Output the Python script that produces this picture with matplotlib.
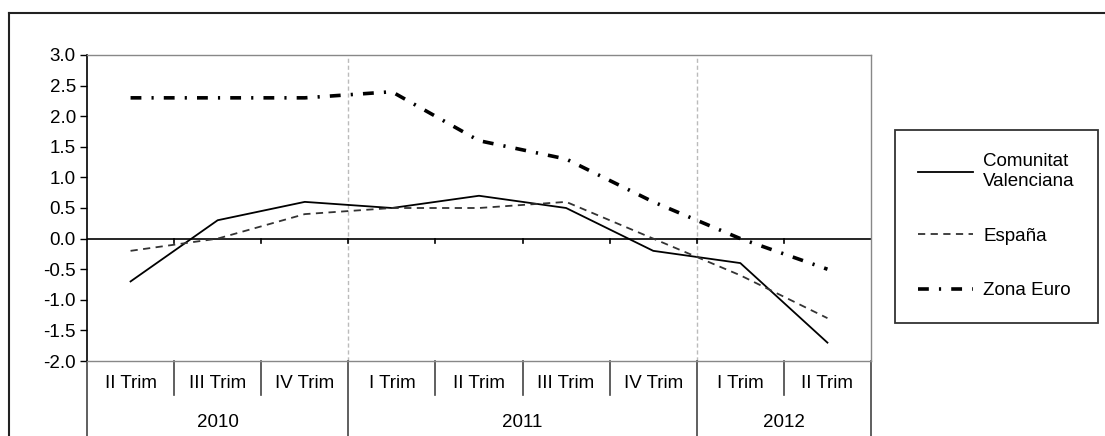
import matplotlib.pyplot as plt
from matplotlib.lines import Line2D
import matplotlib.transforms as mtransforms

plt.rcParams['font.family'] = ['Liberation Sans', 'DejaVu Sans']

trimestres = ['II Trim', 'III Trim', 'IV Trim', 'I Trim', 'II Trim', 'III Trim', 'IV Trim', 'I Trim', 'II Trim']
anios = ['2010', '2011', '2012']
trim_por_anio = [3, 4, 2]

comunitat = [-0.7, 0.3, 0.6, 0.5, 0.7, 0.5, -0.2, -0.4, -1.7]
espana = [-0.2, 0.0, 0.4, 0.5, 0.5, 0.6, 0.0, -0.6, -1.3]
zona_euro = [2.3, 2.3, 2.3, 2.4, 1.6, 1.3, 0.6, 0.0, -0.5]

fs = 13.5

fig = plt.figure(figsize=(11.05, 4.36), dpi=100)
ax = fig.add_axes([87/1105, 75/436, 784/1105, 306/436])

x = list(range(len(trimestres)))
ax.plot(x, comunitat, color='black', lw=1.3, label='Comunitat\nValenciana')
ax.plot(x, espana, color='#333333', lw=1.3, dashes=(4, 3), label='España')
ax.plot(x, zona_euro, color='black', lw=2.6, dashes=(3, 2.8, 0.6, 2.8), label='Zona Euro')

ax.set_xlim(-0.5, len(x) - 0.5)
ax.set_ylim(-2, 3)
ax.set_yticks([-2 + 0.5 * i for i in range(11)])
ax.set_yticklabels(['%.1f' % (-2 + 0.5 * i) for i in range(11)], fontsize=fs)
ax.tick_params(axis='y', direction='out', length=5, width=1, pad=3)
ax.set_xticks([])

for s in ['top', 'right', 'bottom']:
    ax.spines[s].set_color('#888888')
    ax.spines[s].set_linewidth(1.0)
ax.spines['left'].set_color('black')
ax.spines['left'].set_linewidth(1.2)

# zero line with small ticks at the quarter boundaries
ax.axhline(0, color='black', lw=1.2, zorder=1)
for b in range(len(x) - 1):
    ax.plot([b + 0.5, b + 0.5], [0, -0.08], color='black', lw=1.2)

# year boundaries
trans = mtransforms.blended_transform_factory(ax.transData, ax.transAxes)
pos = 0
limites = [-0.5]
for n in trim_por_anio:
    pos += n
    limites.append(pos - 0.5)
for lim in limites[1:-1]:
    ax.axvline(lim, color='#bbbbbb', lw=1.0, ls=(0, (3, 2)), zorder=0)

# category table under the axis
for b in range(len(x) + 1):
    xb = b - 0.5
    bottom = -0.245 if xb in limites else -0.11
    ax.plot([xb, xb], [0, bottom], transform=trans, color='#444444', lw=1.2, clip_on=False)
for i, t in enumerate(trimestres):
    ax.text(i, -0.075, t, transform=trans, ha='center', va='center', fontsize=fs)
for j, a in enumerate(anios):
    centro = (limites[j] + limites[j + 1]) / 2
    ax.text(centro, -0.2, a, transform=trans, ha='center', va='center', fontsize=fs)

leg = ax.legend(loc='upper left', bbox_to_anchor=(895/1105, 1 - 130/436), bbox_transform=fig.transFigure,
                fontsize=fs, frameon=True, fancybox=False, handlelength=2.9, labelspacing=2.0,
                borderpad=1.25, handletextpad=0.55, borderaxespad=0)
leg.get_frame().set_edgecolor('black')
leg.get_frame().set_linewidth(1.3)

# outer frame
fig.add_artist(Line2D([9/1105, 9/1105], [0, 1 - 13/436], color='#222222', lw=1.5))
fig.add_artist(Line2D([9/1105, 1], [1 - 13/436, 1 - 13/436], color='#222222', lw=1.5))

fig.savefig('out.png', dpi=100)
